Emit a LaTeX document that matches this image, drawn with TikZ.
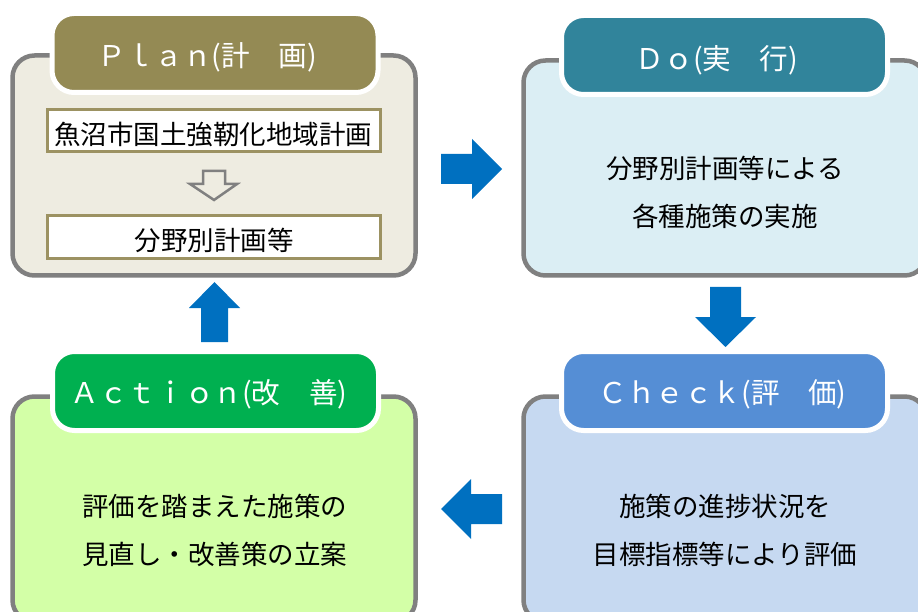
\documentclass[tikz,border=0pt]{standalone}
\usepackage{fontspec}
\setmainfont{Noto Sans CJK JP}
\definecolor{planhd}{HTML}{948A54}
\definecolor{planbg}{HTML}{EEECE1}
\definecolor{dohd}{HTML}{31849B}
\definecolor{dobg}{HTML}{DBEEF4}
\definecolor{checkhd}{HTML}{558ED5}
\definecolor{checkbg}{HTML}{C6D9F1}
\definecolor{acthd}{HTML}{00B050}
\definecolor{actbg}{HTML}{D3FFA7}
\definecolor{arrowblue}{HTML}{0070C0}
\definecolor{framegray}{HTML}{808080}
\definecolor{innerframe}{HTML}{9C9262}
\begin{document}
\begin{tikzpicture}[x=1pt,y=-1pt,
  bodybox/.style={draw=framegray, line width=4.5pt, rounded corners=22pt,
    minimum width=403pt, inner sep=0pt},
  headbox/.style={draw=white, line width=5pt, rounded corners=22pt,
    minimum width=326pt, minimum height=79pt, inner sep=0pt},
  headtext/.style={text=white, inner sep=0pt, font=\fontsize{28.6pt}{30pt}\selectfont},
  bodytext/.style={text=black, inner sep=0pt, align=center,
    font=\fontsize{26.5pt}{48pt}\selectfont},
  innerbox/.style={draw=innerframe, fill=white, line width=3pt,
    minimum width=332.5pt, minimum height=42.5pt, inner sep=0pt},
  blockarrow/.style={fill=arrowblue, draw=none},
  hollowarrow/.style={draw=framegray, line width=2.5pt, line join=miter}
]
\useasboundingbox (0,0) rectangle (918,612);
\begin{scope}
\clip (0,0) rectangle (918,612);
% bodies
\node[bodybox, fill=planbg, minimum height=220pt] (planbody) at (214,165.5) {};
\node[bodybox, fill=dobg, minimum height=215pt] (dobody) at (725,168) {};
\node[bodybox, fill=checkbg, minimum height=225.5pt] (checkbody) at (725,509.25) {};
\node[bodybox, fill=actbg, minimum height=225.5pt] (actbody) at (214,509.25) {};
% headers
\node[headbox, fill=planhd] (planhead) at (215,53) {};
\node[headbox, fill=dohd] (dohead) at (724.5,55) {};
\node[headbox, fill=checkhd] (checkhead) at (724.5,391) {};
\node[headbox, fill=acthd] (acthead) at (215.5,391) {};
\node[headtext] (plantitle) at (207,57) {Ｐｌａｎ(計　画)};
\node[headtext] (dotitle) at (717,60) {Ｄｏ(実　行)};
\node[headtext] (checktitle) at (722.5,394.5) {Ｃｈｅｃｋ(評　価)};
\node[headtext] (acttitle) at (209,394.5) {Ａｃｔｉｏｎ(改　善)};
% plan inner boxes
\node[innerbox] (ib1) at (213.75,130.75) {};
\node[innerbox] (ib2) at (213.75,237) {};
\node[bodytext] (ib1text) at (213,134) {魚沼市国土強靭化地域計画};
\node[bodytext] (ib2text) at (214,240.5) {分野別計画等};
\draw[hollowarrow] (203,171) -- (225,171) -- (225,184) -- (237,184) -- (214,200)
  -- (190,184) -- (203,184) -- cycle;
% body texts
\node[bodytext] (dotext) at (725,192.5) {分野別計画等による\\各種施策の実施};
\node[bodytext] (checktext) at (725,530.25) {施策の進捗状況を\\目標指標等により評価};
\node[bodytext] (acttext) at (214.5,530.5) {評価を踏まえた施策の\\見直し・改善策の立案};
% block arrows
\fill[blockarrow] (441,154) -- (472,154) -- (472,139) -- (502,169) -- (472,199)
  -- (472,184) -- (441,184) -- cycle;
\fill[blockarrow] (710,287) -- (741,287) -- (741,317) -- (756,317) -- (725.5,347)
  -- (695,317) -- (710,317) -- cycle;
\fill[blockarrow] (502,494) -- (502,524) -- (471,524) -- (471,539) -- (441,509)
  -- (471,479) -- (471,494) -- cycle;
\fill[blockarrow] (201,342) -- (228,342) -- (228,308) -- (240,308) -- (214.5,282)
  -- (189,308) -- (201,308) -- cycle;
\end{scope}
\end{tikzpicture}
\end{document}
